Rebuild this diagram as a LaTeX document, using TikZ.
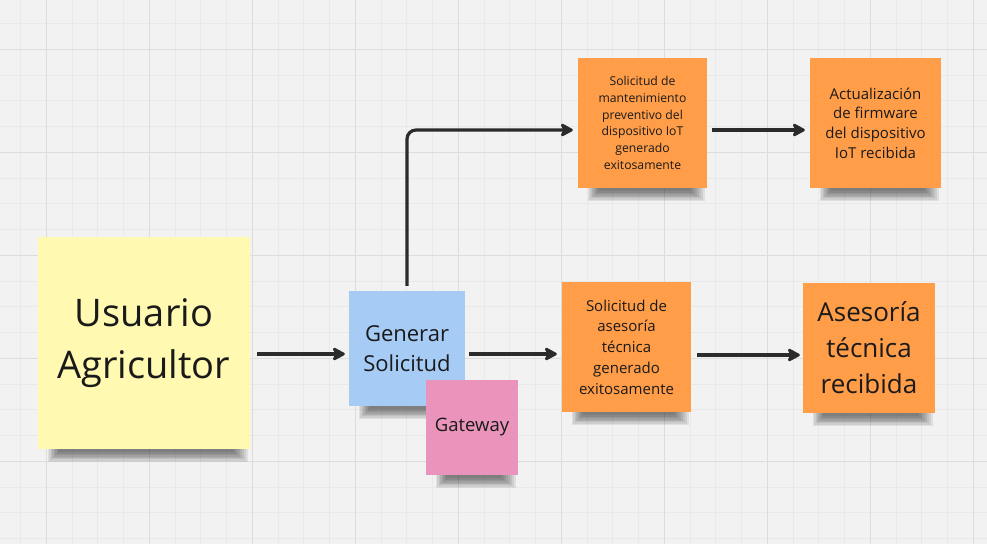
\documentclass[tikz,border=0pt]{standalone}
\usepackage{fontspec}
\setmainfont{Open Sans}
\usetikzlibrary{arrows.meta}
\definecolor{bgc}{HTML}{F2F2F2}
\definecolor{gridminor}{HTML}{E9E9E9}
\definecolor{gridmajor}{HTML}{DCDCDC}
\definecolor{noteyellow}{HTML}{FFF9B1}
\definecolor{noteblue}{HTML}{A6CCF5}
\definecolor{notepink}{HTML}{EA94BB}
\definecolor{noteorange}{HTML}{FF9D48}
\definecolor{inkc}{HTML}{1A1A1A}
\definecolor{arrowc}{HTML}{2B2B2B}
\pgfdeclarelayer{gridlayer}
\pgfdeclarelayer{shadowlayer}
\pgfsetlayers{gridlayer,shadowlayer,main}
\newcommand{\noteshadow}[1]{%
  \begin{pgfonlayer}{shadowlayer}
    \foreach \k in {0,...,7} {
      \fill[black, opacity=0.075]
        ([xshift={10pt+1.5pt*\k},yshift=2pt]#1.south west)
        rectangle ([xshift={-2pt-2pt*\k},yshift={-13pt+1.4pt*\k}]#1.south east);
    }
  \end{pgfonlayer}}
\begin{document}
\begin{tikzpicture}[x=1pt,y=-1pt,
  note/.style={inner sep=2pt, align=center, text=inkc},
  arr/.style={draw=arrowc, line width=3.2pt,
    -{Stealth[length=15pt,width=16pt,inset=4pt,round]}}
]
\useasboundingbox (0,0) rectangle (987,544);
\begin{pgfonlayer}{gridlayer}
  \clip (0,0) rectangle (987,544);
  \fill[bgc] (0,0) rectangle (987,544);
  \foreach \i in {0,...,37} {
    \draw[gridminor, line width=0.9pt] ({20.5+25.75*\i},0) -- ({20.5+25.75*\i},544);
  }
  \foreach \i in {0,...,20} {
    \draw[gridminor, line width=0.9pt] (0,{23.5+25.75*\i}) -- (987,{23.5+25.75*\i});
  }
  \foreach \i in {0,...,9} {
    \draw[gridmajor, line width=1pt] ({46.25+103*\i},0) -- ({46.25+103*\i},544);
  }
  \foreach \i in {0,...,4} {
    \draw[gridmajor, line width=1pt] (0,{49.25+103*\i}) -- (987,{49.25+103*\i});
  }
\end{pgfonlayer}

% notes
\node[note, fill=noteyellow, minimum width=212pt, minimum height=212pt,
  font=\fontsize{38}{52}\selectfont] (user) at (144,343) {Usuario\\Agricultor};
\node[note, fill=noteblue, minimum width=116pt, minimum height=115pt,
  font=\fontsize{22}{30.5}\selectfont] (gen) at (407,348.5) {Generar\\Solicitud};
\node[note, fill=notepink, minimum width=92pt, minimum height=95pt,
  font=\fontsize{18.5}{24}\selectfont] (gate) at (472,427.5) {Gateway};
\node[note, fill=noteorange, minimum width=129pt, minimum height=130pt,
  font=\fontsize{12.2}{16.7}\selectfont] (t1) at (642.5,123)
  {Solicitud de\\mantenimiento\\preventivo del\\dispositivo IoT\\generado\\exitosamente};
\node[note, fill=noteorange, minimum width=131pt, minimum height=130pt,
  font=\fontsize{15}{19.7}\selectfont] (t2) at (875.5,123)
  {Actualización\\de firmware\\del dispositivo\\IoT recibida};
\node[note, fill=noteorange, minimum width=129pt, minimum height=130pt,
  font=\fontsize{15}{20.7}\selectfont] (b1) at (626.5,347)
  {Solicitud de\\asesoría\\técnica\\generado\\exitosamente};
\node[note, fill=noteorange, minimum width=132pt, minimum height=130pt,
  font=\fontsize{26}{36}\selectfont] (b2) at (869,348)
  {Asesoría\\técnica\\recibida};

\noteshadow{user}
\noteshadow{gen}
\noteshadow{gate}
\noteshadow{t1}
\noteshadow{t2}
\noteshadow{b1}
\noteshadow{b2}

% connectors
\draw[arr] ([xshift=7pt,yshift=-11pt]user.east) -- ([xshift=-4pt,yshift=-5.5pt]gen.west);
\draw[arr] ([xshift=4pt,yshift=-5.5pt]gen.east) -- ([xshift=-5pt,yshift=-7pt]b1.west);
\draw[arr] ([xshift=6pt,yshift=-8pt]b1.east) -- ([xshift=-3pt,yshift=-7pt]b2.west);
\draw[arr, rounded corners=9pt] ([yshift=5pt]gen.north) |- ([xshift=-5pt,yshift=-7pt]t1.west);
\draw[arr] ([xshift=5pt,yshift=-7pt]t1.east) -- ([xshift=-5pt,yshift=-7pt]t2.west);
\end{tikzpicture}
\end{document}
